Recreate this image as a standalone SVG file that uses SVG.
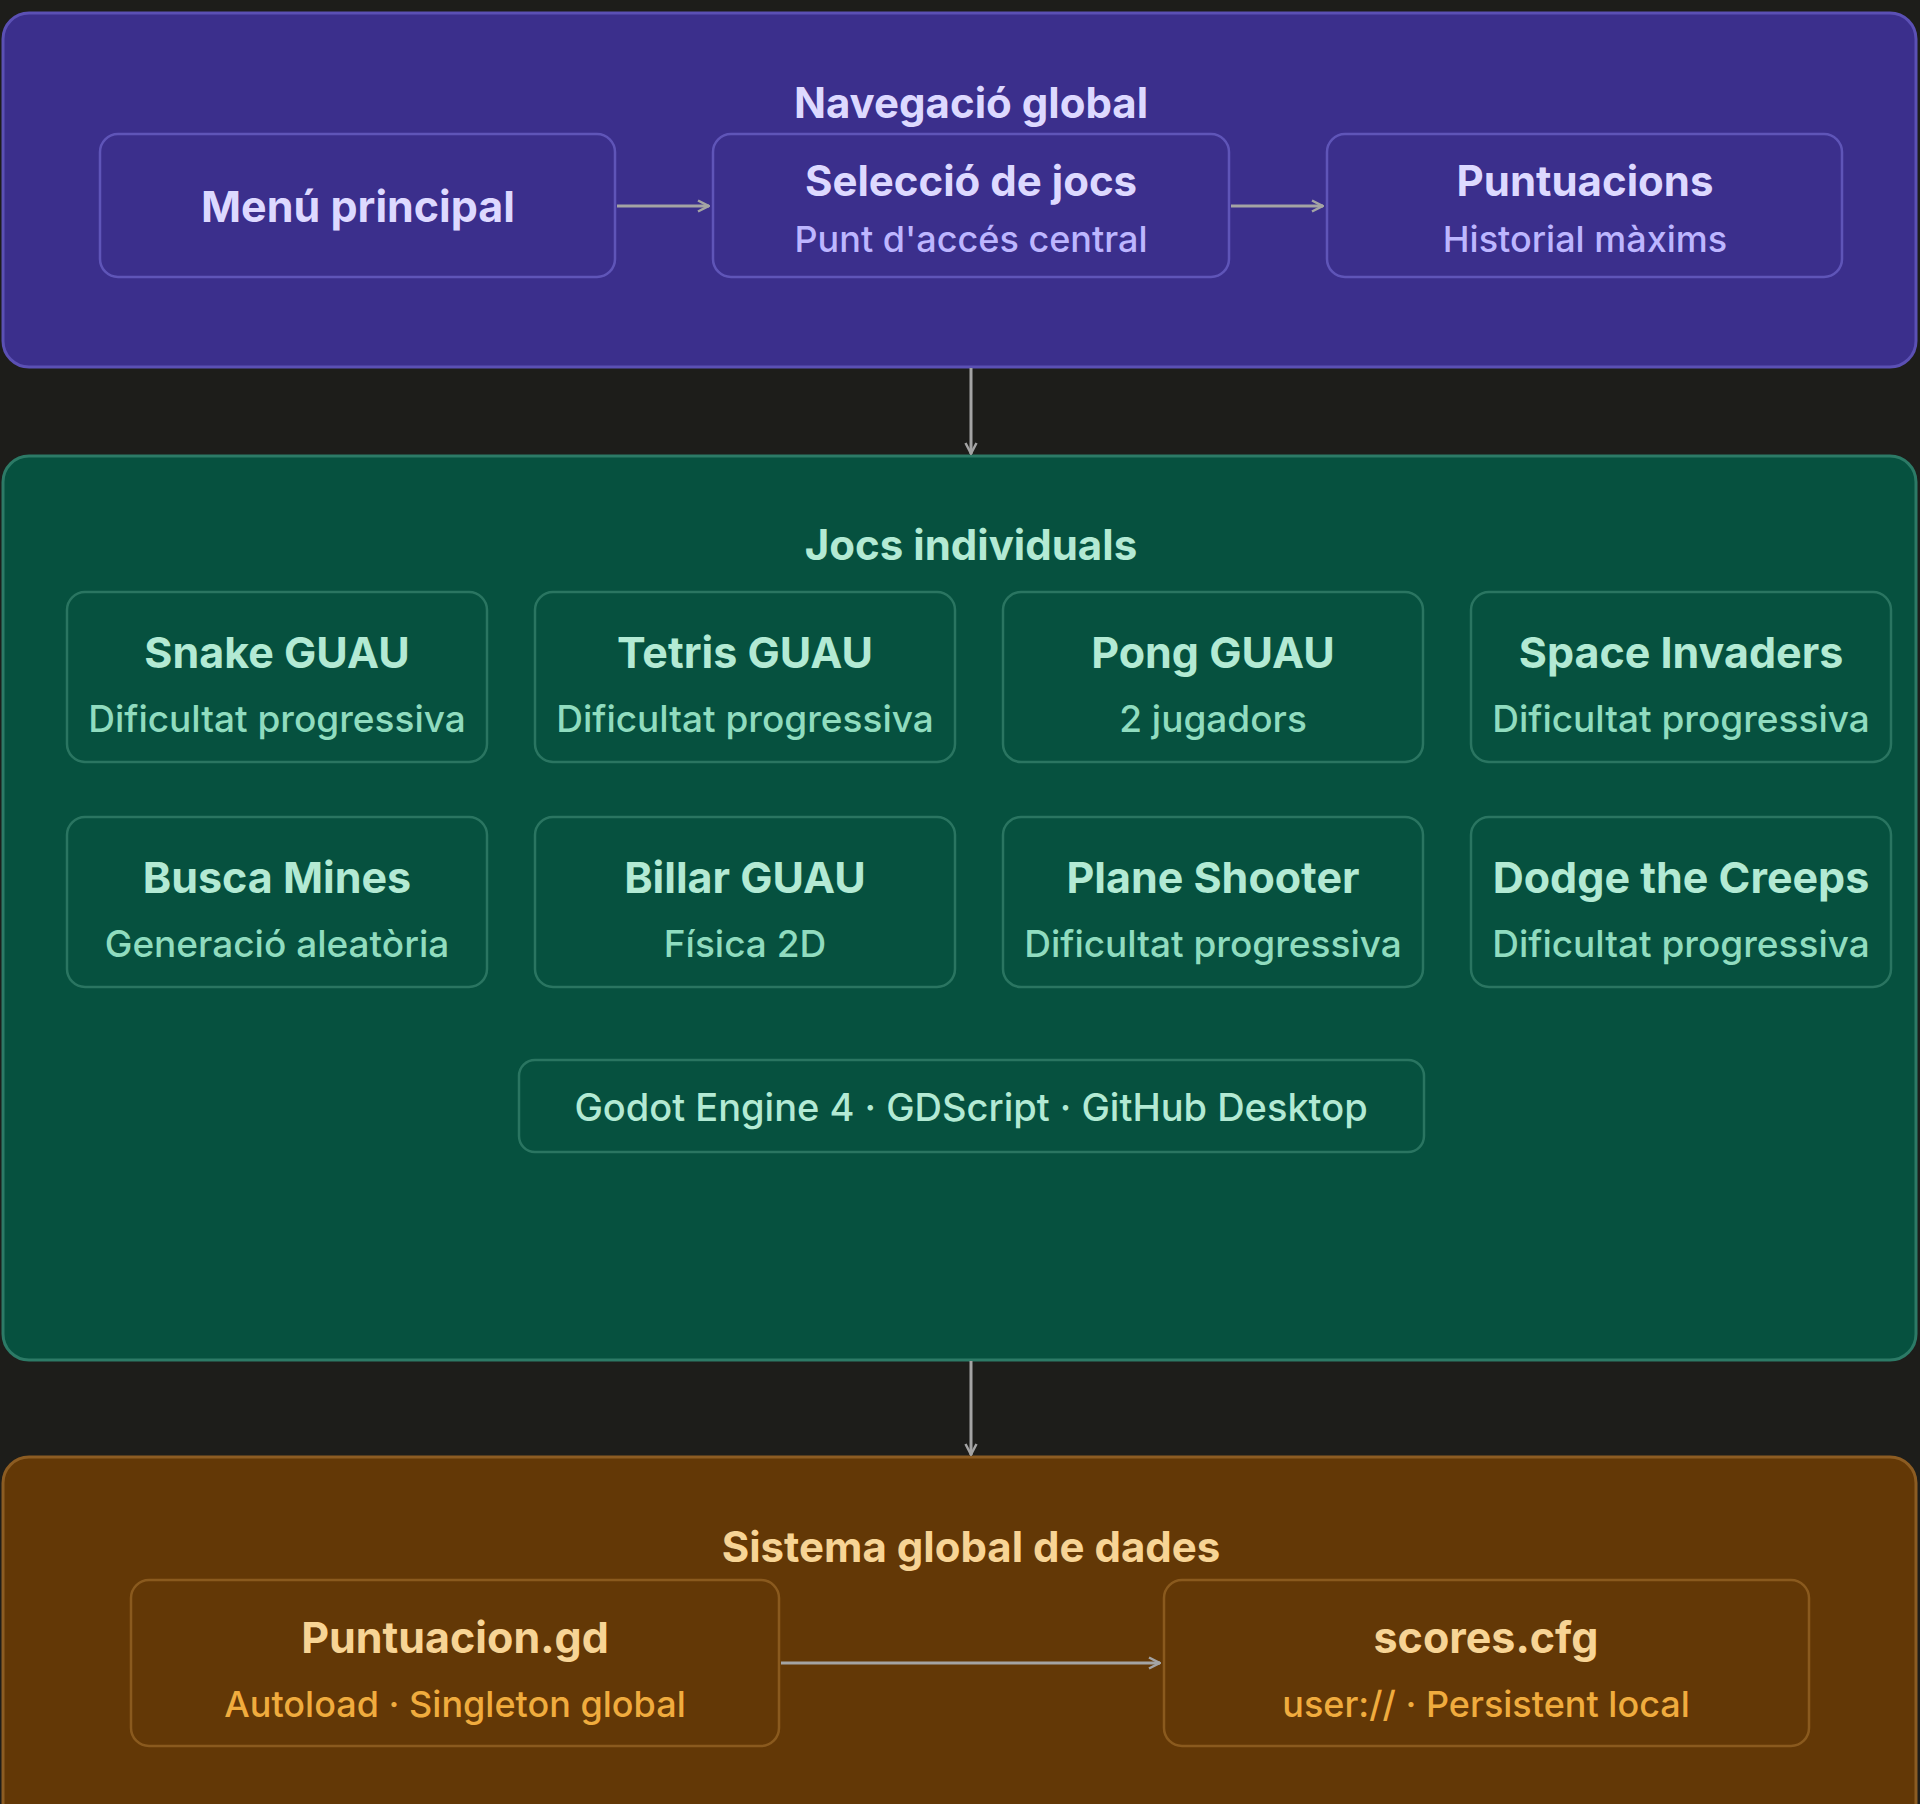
<svg xmlns="http://www.w3.org/2000/svg" width="1920" height="1804" viewBox="0 0 1920 1804">
<defs>
<style>
.t{font-family:Inter,"Liberation Sans",sans-serif;text-anchor:middle}
.b{font-weight:700}
.r{font-weight:500}
.pp{fill:#3b2f8c;stroke:#5b50b4;stroke-width:3}
.pn{fill:#3b2f8c;stroke:#5f55b8;stroke-width:2.5}
.gp{fill:#06513f;stroke:#2c7a66;stroke-width:3}
.gn{fill:#06513f;stroke:#2a7561;stroke-width:2.5}
.op{fill:#633806;stroke:#8c5c22;stroke-width:3}
.on{fill:#633806;stroke:#8a5a1e;stroke-width:2.5}
.ptit{fill:#ddd9ff}
.psub{fill:#bdb6ff}
.gtit{fill:#b3ead4}
.gsub{fill:#90dcbf}
.otit{fill:#f7d495}
.osub{fill:#f0ac3e}
.edge{fill:none;stroke:#a4a4a4;stroke-width:3}
</style>
<marker id="ah" viewBox="0 0 14 14" refX="13" refY="7" markerWidth="14" markerHeight="14" markerUnits="userSpaceOnUse" orient="auto">
<path d="M2,1.5 L12.5,7 L2,12.5" fill="none" stroke="#a4a4a4" stroke-width="2.5"/>
</marker>
</defs>
<rect width="1920" height="1804" fill="#1d1d1a"/>

<g id="panel-navegacio">
<rect class="pp" x="3" y="13" width="1913" height="354" rx="26"/>
<text class="t b ptit" x="971" y="118" font-size="42">Navegació global</text>
</g>
<g id="node-menu">
<rect class="pn" x="100" y="134" width="515" height="143" rx="18"/>
<text class="t b ptit" x="358" y="222" font-size="43">Menú principal</text>
</g>
<g id="node-seleccio">
<rect class="pn" x="713" y="134" width="516" height="143" rx="18"/>
<text class="t b ptit" x="971" y="196" font-size="42">Selecció de jocs</text>
<text class="t r psub" x="971" y="252" font-size="36">Punt d'accés central</text>
</g>
<g id="node-puntuacions">
<rect class="pn" x="1327" y="134" width="515" height="143" rx="18"/>
<text class="t b ptit" x="1585" y="196" font-size="42">Puntuacions</text>
<text class="t r psub" x="1585" y="252" font-size="36">Historial màxims</text>
</g>

<g id="panel-jocs">
<rect class="gp" x="3" y="456" width="1913" height="904" rx="26"/>
<text class="t b gtit" x="971" y="560" font-size="42">Jocs individuals</text>
</g>
<g id="node-snake">
<rect class="gn" x="67" y="592" width="420" height="170" rx="18"/>
<text class="t b gtit" x="277" y="668" font-size="43">Snake GUAU</text>
<text class="t r gsub" x="277" y="732" font-size="37">Dificultat progressiva</text>
</g>
<g id="node-tetris">
<rect class="gn" x="535" y="592" width="420" height="170" rx="18"/>
<text class="t b gtit" x="745" y="668" font-size="43">Tetris GUAU</text>
<text class="t r gsub" x="745" y="732" font-size="37">Dificultat progressiva</text>
</g>
<g id="node-pong">
<rect class="gn" x="1003" y="592" width="420" height="170" rx="18"/>
<text class="t b gtit" x="1213" y="668" font-size="43">Pong GUAU</text>
<text class="t r gsub" x="1213" y="732" font-size="37">2 jugadors</text>
</g>
<g id="node-space">
<rect class="gn" x="1471" y="592" width="420" height="170" rx="18"/>
<text class="t b gtit" x="1681" y="668" font-size="43">Space Invaders</text>
<text class="t r gsub" x="1681" y="732" font-size="37">Dificultat progressiva</text>
</g>
<g id="node-busca">
<rect class="gn" x="67" y="817" width="420" height="170" rx="18"/>
<text class="t b gtit" x="277" y="893" font-size="43">Busca Mines</text>
<text class="t r gsub" x="277" y="957" font-size="37">Generació aleatòria</text>
</g>
<g id="node-billar">
<rect class="gn" x="535" y="817" width="420" height="170" rx="18"/>
<text class="t b gtit" x="745" y="893" font-size="43">Billar GUAU</text>
<text class="t r gsub" x="745" y="957" font-size="37">Física 2D</text>
</g>
<g id="node-plane">
<rect class="gn" x="1003" y="817" width="420" height="170" rx="18"/>
<text class="t b gtit" x="1213" y="893" font-size="43">Plane Shooter</text>
<text class="t r gsub" x="1213" y="957" font-size="37">Dificultat progressiva</text>
</g>
<g id="node-dodge">
<rect class="gn" x="1471" y="817" width="420" height="170" rx="18"/>
<text class="t b gtit" x="1681" y="893" font-size="43">Dodge the Creeps</text>
<text class="t r gsub" x="1681" y="957" font-size="37">Dificultat progressiva</text>
</g>
<g id="node-godot">
<rect class="gn" x="519" y="1060" width="905" height="92" rx="16"/>
<text class="t r gtit" x="971" y="1121" font-size="38">Godot Engine 4 · GDScript · GitHub Desktop</text>
</g>

<g id="panel-dades">
<rect class="op" x="3" y="1457" width="1913" height="380" rx="26"/>
<text class="t b otit" x="971" y="1562" font-size="42">Sistema global de dades</text>
</g>
<g id="node-puntuacion-gd">
<rect class="on" x="131" y="1580" width="648" height="166" rx="18"/>
<text class="t b otit" x="455" y="1653" font-size="43">Puntuacion.gd</text>
<text class="t r osub" x="455" y="1717" font-size="36">Autoload · Singleton global</text>
</g>
<g id="node-scores">
<rect class="on" x="1164" y="1580" width="645" height="166" rx="18"/>
<text class="t b otit" x="1486" y="1653" font-size="43">scores.cfg</text>
<text class="t r osub" x="1486" y="1717" font-size="36">user:// · Persistent local</text>
</g>

<g id="connectors">
<line class="edge" x1="617" y1="206" x2="709" y2="206" marker-end="url(#ah)"/>
<line class="edge" x1="1231" y1="206" x2="1323" y2="206" marker-end="url(#ah)"/>
<line class="edge" x1="971" y1="368" x2="971" y2="454" marker-end="url(#ah)"/>
<line class="edge" x1="971" y1="1361" x2="971" y2="1455" marker-end="url(#ah)"/>
<line class="edge" x1="781" y1="1663" x2="1160" y2="1663" marker-end="url(#ah)"/>
</g>
</svg>
